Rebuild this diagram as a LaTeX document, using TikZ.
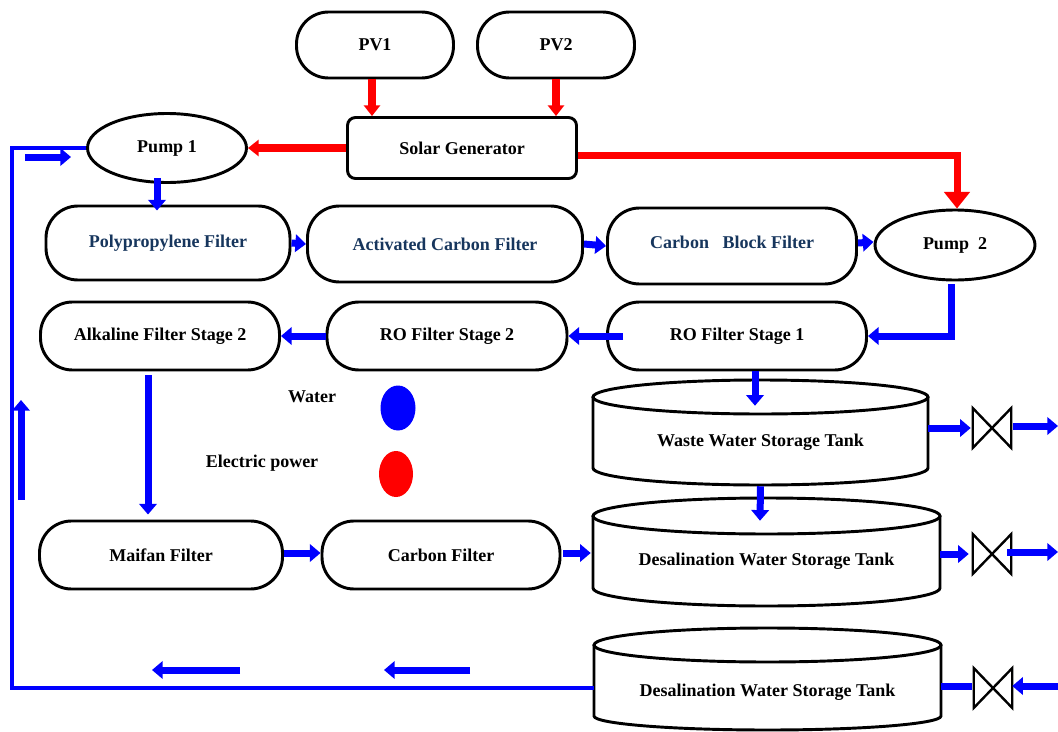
\documentclass[tikz,border=0pt]{standalone}
\usepackage{fontspec}
\setmainfont{Liberation Serif}
\usetikzlibrary{arrows.meta,calc,shapes.geometric}
\definecolor{navy}{RGB}{23,54,93}
\definecolor{wblue}{RGB}{0,0,255}
\definecolor{ered}{RGB}{255,0,0}
\newcommand\drawtank[6]{%
  \draw[tankline] (#1,#3) ellipse [x radius={#2*0.75pt}, y radius={#5*0.75pt}];
  \draw[tankline] (#1-#2,#3) -- (#1-#2,#4) arc [start angle=180,end angle=360,x radius={#2*0.75pt},y radius={#6*0.75pt}] -- (#1+#2,#3);}
\begin{document}
\begin{tikzpicture}[x=0.75pt,y=-0.75pt,
  lab/.style={font=\fontsize{13.5}{16}\selectfont\bfseries},
  sz/.style 2 args={minimum width={#1*0.75pt},minimum height={#2*0.75pt}},
  pill/.style={lab,draw,line width=2.2pt,rounded corners=24pt,inner sep=0pt},
  boxn/.style={lab,draw,line width=2.2pt,rounded corners=6pt,inner sep=0pt},
  pumpn/.style={lab,draw,ellipse,line width=2.2pt,inner sep=0pt},
  tankline/.style={line width=2.2pt},
  tanklab/.style={lab,inner sep=0pt},
  valvebox/.style={inner sep=0pt,minimum width=28.5pt,minimum height=29.5pt},
  valveline/.style={line width=1.8pt,line join=miter},
  warrow/.style={draw=wblue,line width=5.25pt,-{Triangle[length=8pt,width=13pt]}},
  wbar/.style={draw=wblue,line width=5.25pt},
  wline/.style={draw=wblue,line width=2.4pt},
  earrow/.style={draw=ered,line width=6pt,-{Triangle[length=8pt,width=12pt]}},
  earrowbig/.style={draw=ered,line width=5.25pt,-{Triangle[length=12.5pt,width=19pt]}}
]
\useasboundingbox (0,0) rectangle (1058,732);
% tanks
\drawtank{760.5}{167.5}{397}{468}{17}{17}
\drawtank{766.5}{173.5}{516}{588}{18}{18}
\drawtank{767.5}{173.5}{645}{716}{17}{14}
% nodes
\node[pill,sz={157}{66}] (pv1) at (375,45) {PV1};
\node[pill,sz={157}{66}] (pv2) at (556,45) {PV2};
\node[boxn,sz={229}{61}] (sg) at (462,148) {Solar Generator};
\node[pumpn,sz={159}{69}] (pump1) at (167,148) {Pump 1};
\node[pumpn,sz={160}{70}] (pump2) at (955,245) {Pump\ \ 2};
\node[pill,sz={244}{74},text=navy] (poly) at (168,243) {Polypropylene Filter};
\node[pill,sz={275}{76},text=navy] (act) at (445,244) {Activated Carbon Filter};
\node[pill,sz={249}{76},text=navy,text depth=5pt] (cbf) at (732,246) {Carbon\ \ \ Block Filter};
\node[pill,sz={239}{68}] (alk) at (160,336) {Alkaline Filter Stage 2};
\node[pill,sz={240}{68}] (ro2) at (447,336) {RO Filter Stage 2};
\node[pill,sz={259}{68}] (ro1) at (737,336) {RO Filter Stage 1};
\node[pill,sz={243}{68}] (maifan) at (161,555) {Maifan Filter};
\node[pill,sz={238}{68}] (carbon) at (441,555) {Carbon Filter};
\node[tanklab,sz={335}{88}] (wtank) at (760.5,442) {Waste Water Storage Tank};
\node[tanklab,sz={347}{90}] (dtank) at (766.5,561) {Desalination Water Storage Tank};
\node[tanklab,sz={347}{94}] (rtank) at (767.5,692) {Desalination Water Storage Tank};
% legend
\node[lab] (water) at (312,397) {Water};
\node[lab] (elec) at (262,463) {Electric power};
\node[ellipse,fill=wblue,inner sep=0pt,sz={35}{45}] (wdot) at (398,408) {};
\node[ellipse,fill=ered,inner sep=0pt,sz={34}{46}] (edot) at (396,474) {};
% valves
\node[valvebox] (v1) at (992,428) {};
\node[valvebox] (v2) at (992,554) {};
\node[valvebox] (v3) at (993,688) {};
\foreach \v in {v1,v2,v3}{
  \draw[valveline] (\v.north west) -- (\v.south east) -- (\v.north east) -- (\v.south west) -- cycle;}
% free ends
\coordinate (o1) at (1058,426);
\coordinate (o2) at (1058,552);
\coordinate (o3) at (1058,686);
\coordinate (c1) at (12,688);
\coordinate (b1s) at (240,670);
\coordinate (b1e) at (152,670);
\coordinate (b2s) at (470,670);
\coordinate (b2e) at (384,670);
\coordinate (l1s) at (21,500);
\coordinate (l1e) at (21,400);
\coordinate (t1s) at (25,157);
\coordinate (t1e) at (71,157);
% electric connectors
\draw[earrow] ($(pv1.south)+(-3,0)$) -- ($(pv1.south |- sg.north)+(-3,0)$);
\draw[earrow] (pv2.south) -- (pv2.south |- sg.north);
\draw[earrow] (sg.west) -- (pump1.east);
\draw[earrowbig] ($(sg.east)+(0,7)$) -| ($(pump2.north)+(2,0)$);
% water connectors
\draw[warrow] ($(pump1.south)+(-10,-6)$) -- ($(poly.north)+(-11,6)$);
\draw[warrow] (poly.east) -- (act.west);
\draw[warrow] (act.east) -- (cbf.west);
\draw[warrow] ($(cbf.east)+(0,-3)$) -- ($(pump2.west)+(0,-3)$);
\draw[warrow] ($(pump2.south)+(-4,3)$) |- (ro1.east);
\draw[warrow] ($(ro1.west)+(17,0)$) -- (ro2.east);
\draw[warrow] (ro2.west) -- (alk.east);
\draw[warrow] ($(alk.south)+(-12,4)$) -- ($(maifan.north)+(-13,-5)$);
\draw[warrow] ($(maifan.east)+(0,-2)$) -- ($(carbon.west)+(0,-2)$);
\draw[warrow] ($(carbon.east)+(2,-2)$) -- ($(dtank.west |- carbon.east)+(-2,-2)$);
\draw[warrow] ($(ro1.south)+(18,0)$) -- ($(wtank.north)+(-5.5,8)$);
\draw[warrow] ($(wtank.south)+(0,0)$) -- ($(dtank.north)+(-6.5,5)$);
\draw[warrow] (wtank.east |- v1) -- ($(v1.west)+(-2,0)$);
\draw[warrow] ($(v1.east)+(2,-2)$) -- (o1);
\draw[warrow] (dtank.east |- v2) -- ($(v2.west)+(-4,0)$);
\draw[warrow] ($(v2.east)+(-4,-2)$) -- (o2);
\draw[warrow] (o3) -- ($(v3.east)+(0,-2)$);
\draw[wbar] ($(v3.west)+(-2,-2)$) -- ($(rtank.east |- v3)+(0,-2)$);
\draw[wline] (rtank.west |- c1) -- (c1) |- (pump1.west);
\draw[warrow] (b1s) -- (b1e);
\draw[warrow] (b2s) -- (b2e);
\draw[warrow] (l1s) -- (l1e);
\draw[warrow] (t1s) -- (t1e);
\end{tikzpicture}
\end{document}
